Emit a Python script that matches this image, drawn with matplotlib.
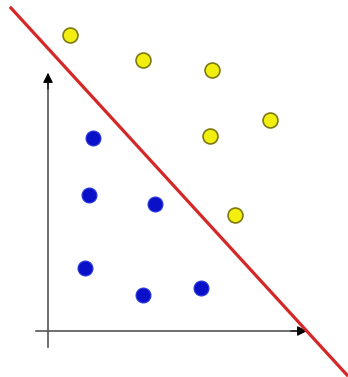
import matplotlib.pyplot as plt

# two classes of points and a separating line (units)
yellow_x = [2.2, 9.5, 16.4, 22.2, 16.2, 18.7]
yellow_y = [29.6, 27.1, 26.1, 21.1, 19.5, 11.6]
blue_x = [4.5, 4.1, 10.7, 3.7, 9.5, 15.3]
blue_y = [19.3, 13.6, 12.7, 6.3, 3.6, 4.3]
line_x = [-3.7, 29.9]
line_y = [32.3, -4.4]

fig = plt.figure(figsize=(3.48, 3.77), dpi=100)
ax = fig.add_axes([0, 0, 1, 1])
ax.set_xlim(-4.8, 30.0)
ax.set_ylim(-4.6, 33.1)
ax.axis('off')

# axes: grey shafts, black arrow heads
ax.plot([-1.2, 25.5], [0, 0], color='#555555', lw=1.2)
ax.plot([0, 0], [-1.6, 25.4], color='#555555', lw=1.2)
ax.annotate('', xy=(26.2, 0), xytext=(24.0, 0),
            arrowprops=dict(arrowstyle='-|>', color='black', lw=0.8, mutation_scale=15))
ax.annotate('', xy=(0, 26.1), xytext=(0, 23.9),
            arrowprops=dict(arrowstyle='-|>', color='black', lw=0.8, mutation_scale=15))

ax.plot(line_x, line_y, color='#d42828', linewidth=2.3, zorder=3)

ax.scatter(yellow_x, yellow_y, s=115, c='#f2ee10', edgecolor='#7d7a10', linewidth=1.2, zorder=4)
ax.scatter(blue_x, blue_y, s=115, c='#0a10c8', edgecolor='#2a3adc', linewidth=0.8, zorder=4)

plt.savefig('out.png', dpi=100)
